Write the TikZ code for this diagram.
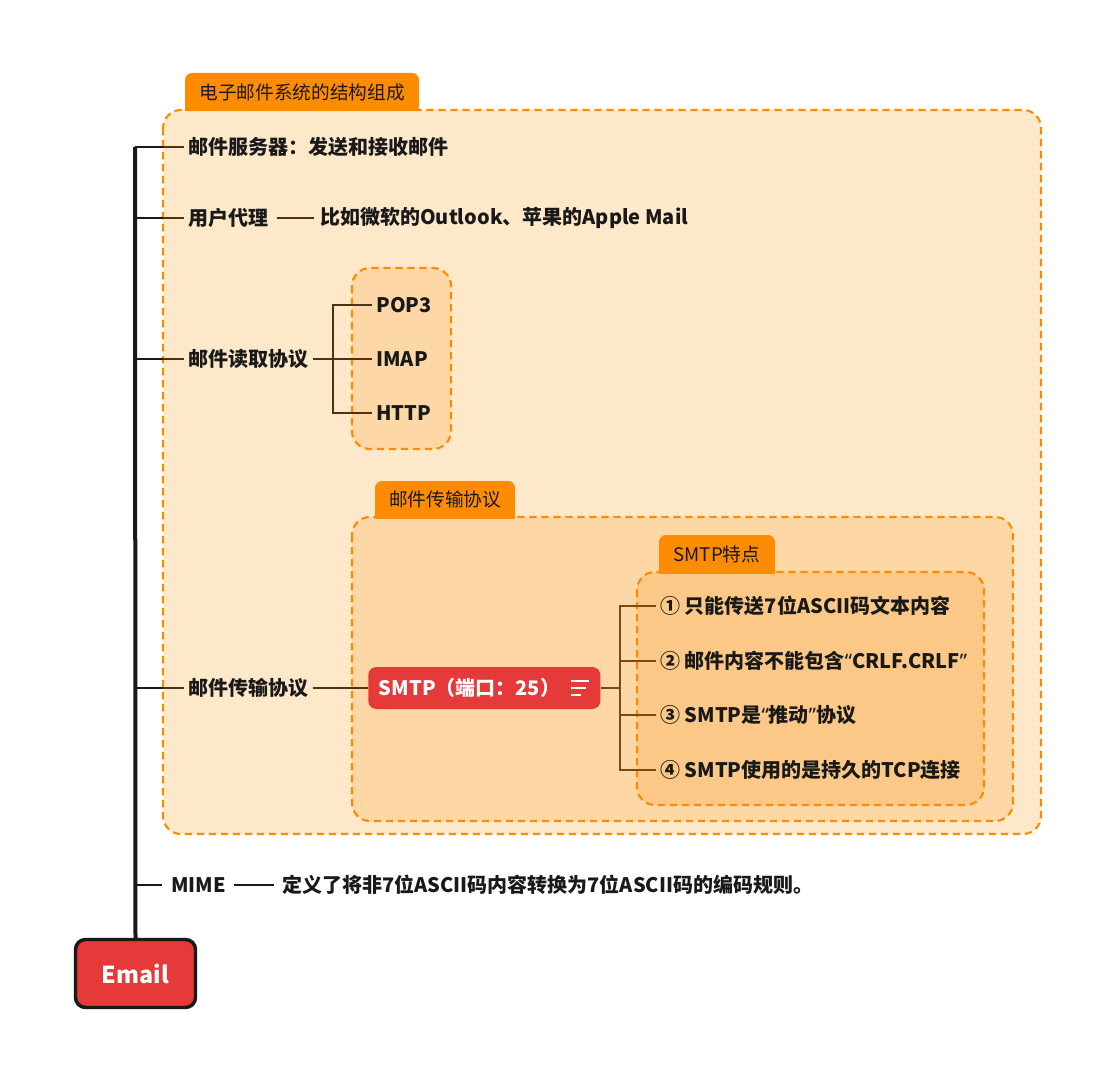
\documentclass[tikz,border=0pt]{standalone}
\usepackage{fontspec}
\setmainfont{Noto Sans CJK SC}
\newfontfamily\latinf{Noto Sans}
\usetikzlibrary{calc}
\definecolor{outerbg}{HTML}{FDE8C9}
\definecolor{midbg}{HTML}{FDD7A6}
\definecolor{innerbg}{HTML}{FCC888}
\definecolor{orng}{HTML}{FD8C00}
\definecolor{brn}{HTML}{4E3212}
\definecolor{brnb}{HTML}{7A4A12}
\definecolor{redn}{HTML}{E5393A}
\newcommand{\mytab}[6]{%
  \fill[orng] (#1,#4) -- (#1,#3+7) arc[start angle=180,end angle=270,radius=7]
    -- (#2-7,#3) arc[start angle=270,end angle=360,radius=7] -- (#2,#4) -- cycle;
  \node[tabtxt] (#5) at ({(#1+#2)/2},{(#3+#4)/2}) {#6};}
\begin{document}
\begin{tikzpicture}[x=0.75pt,y=-0.75pt,
  dbox/.style={draw=orng,line width=1.6pt,dash pattern=on 5.5pt off 3.5pt,rounded corners=13.5pt},
  txt/.style={anchor=west,inner xsep=3pt,inner ysep=1pt,font=\fontsize{15}{18}\selectfont\bfseries,text=black!90},
  tabtxt/.style={inner sep=0pt,font=\fontsize{14}{16}\selectfont,text=black!90},
  trunk/.style={line width=3pt,black!90},
  br/.style={line width=2pt,black!90},
  bl/.style={line width=1.8pt,brn},
  bl2/.style={line width=1.8pt,brnb}]
\useasboundingbox (0,0) rectangle (1113,1080);
\fill[white] (0,0) rectangle (1113,1080);

% outer box
\mytab{185}{419}{73}{111}{tabA}{电子邮件系统的结构组成}
\fill[outerbg,rounded corners=13.5pt] (163,110) rectangle (1041,834);
\draw[dbox] (163,110) rectangle (1041,834);
\fill[orng] (185,107) rectangle (419,111.5);

% read box
\fill[midbg,rounded corners=13.5pt] (352,268) rectangle (451,449);
\draw[dbox] (352,268) rectangle (451,449);

% transmission box
\mytab{375}{515}{481}{518}{tabB}{邮件传输协议}
\fill[midbg,rounded corners=13.5pt] (352,517) rectangle (1013,821);
\draw[dbox] (352,517) rectangle (1013,821);
\fill[orng] (375,514) rectangle (515,518.5);

% features box
\mytab{659}{775}{535}{573}{tabC}{SMTP特点}
\fill[innerbg,rounded corners=13.5pt] (637,572) rectangle (984,805);
\draw[dbox] (637,572) rectangle (984,805);
\fill[orng] (659,569) rectangle (775,573.5);

% root
\node[draw=black!90,line width=2.6pt,fill=redn,rounded corners=7.5pt,
  minimum width=90pt,minimum height=51pt,text=white,
  font=\fontsize{17.5}{21}\selectfont\bfseries] (email) at (135.5,973.5) {Email};
\coordinate (top) at (135,147);

% level 1 nodes
\node[txt] (srv) at (184,147) {邮件服务器：发送和接收邮件};
\node[txt] (ua) at (184,218) {用户代理};
\node[txt] (uad) at (316,218) {比如微软的Outlook、苹果的Apple Mail};
\node[txt] (read) at (184,359) {邮件读取协议};
\node[txt] (trans) at (184,688) {邮件传输协议};
\node[txt] (mime) at (167,885) {MIME};
\node[txt] (mimed) at (278,885) {定义了将非7位ASCII码内容转换为7位ASCII码的编码规则。};

% read protocols
\node[txt] (pop) at (372,305) {POP3};
\node[txt] (imap) at (372,359) {IMAP};
\node[txt] (http) at (372,413) {HTTP};

% smtp
\node[fill=redn,rounded corners=6pt,anchor=west,minimum width=174pt,minimum height=31.5pt,
  text width=158pt,align=left,inner xsep=6pt,text=white,
  font=\fontsize{15}{18}\selectfont\bfseries] (smtp) at (368,688) {SMTP（端口：25）};
\draw[white,line width=1.5pt] ($(smtp.east)+(-30,-7)$) -- +(18,0)
  ($(smtp.east)+(-30,0)$) -- +(15,0) ($(smtp.east)+(-30,7)$) -- +(10,0);

% features
\node[txt] (f1) at (656,606) {① 只能传送7位ASCII码文本内容};
\node[txt] (f2) at (656,661) {② 邮件内容不能包含{\latinf\bfseries “}CRLF.CRLF{\latinf\bfseries ”}};
\node[txt] (f3) at (656,715) {③ SMTP是{\latinf\bfseries “}推动{\latinf\bfseries ”}协议};
\node[txt] (f4) at (656,770) {④ SMTP使用的是持久的TCP连接};

% trunk
\draw[trunk] (email.north) -- (top);
% branches from trunk
\foreach \n in {srv,ua,read,trans}{
  \draw[br] (135,0 |- \n.west) -- (163,0 |- \n.west);
  \draw[bl] (163,0 |- \n.west) -- (\n.west);
}
\draw[br] (135,0 |- mime.west) -- ($(mime.west)+(-5,0)$);
\draw[bl] ($(ua.east)+(4,0)$) -- ($(uad.west)+(-2,0)$);
\draw[br] ($(mime.east)+(4,0)$) -- ($(mimed.west)+(-4,0)$);

% read fork
\coordinate (fk1) at (333,359);
\draw[bl] (read.east) -- (fk1);
\foreach \n in {pop,imap,http}{
  \draw[bl] (fk1) -- (fk1 |- \n.west) -- (\n.west);
}
% trans to smtp
\draw[bl] (trans.east) -- (smtp.west);
% smtp fork
\coordinate (fk2) at (620,688);
\draw[bl2] (smtp.east) -- (fk2);
\foreach \n in {f1,f2,f3,f4}{
  \draw[bl2] (fk2) -- (fk2 |- \n.west) -- (\n.west);
}
\end{tikzpicture}
\end{document}
